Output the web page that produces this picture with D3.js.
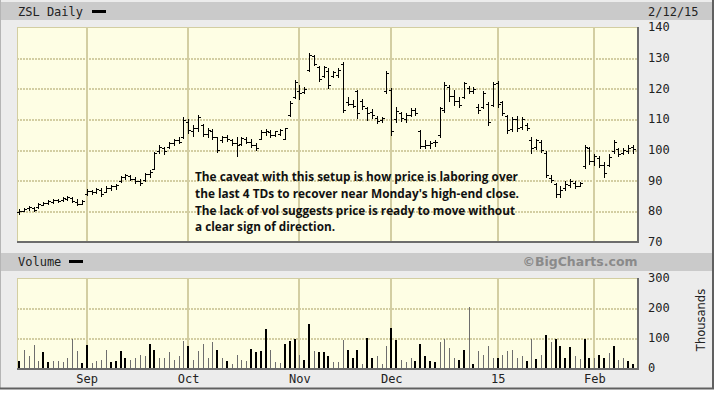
<!DOCTYPE html>
<html>
<head>
<meta charset="utf-8">
<script src="https://cdn.jsdelivr.net/npm/d3@7"></script>
<style>
body { margin: 0; background: #fff; }
svg text { font-family: "DejaVu Sans Mono", monospace; font-size: 12px; fill: #222; }
</style>
</head>
<body>
<div id="chart"></div>
<script>
// daily OHLC, Aug 12 2014 .. Feb 12 2015
const opens = [79.5, 80, 80.8, 81, 81.2, 82, 82.6, 83, 83.6, 83.4, 84, 84.2, 83, 82.4,
  85.6, 86.4, 86, 86.8, 86.2, 87.4, 88, 89.8, 91, 91.5, 90.5, 89.6, 90, 92, 93.8, 99.5, 100.6, 100.8, 102, 103, 104,
  109, 106, 107, 108, 105, 106, 104, 103, 104, 103, 102, 101.8, 103.5, 102.4, 101.4, 103.6, 105.6, 105.8, 104.8, 105, 103.6, 111.2, 117.2,
  119, 118.8, 126, 130.5, 127, 124, 125.6, 124, 124.4, 127.8, 115.4, 115, 119, 115.8, 113.6, 112.4, 110.4, 109.6, 119,
  119.6, 110, 112, 110, 111.4, 113, 106, 101.2, 101.6, 102.4, 104.6, 112.8, 120.4, 117.4, 116, 117, 120, 119.2, 114, 114, 115, 114.6,
  121.6, 115.6, 111, 106.8, 110, 107.4, 108, 103, 101, 102.4, 99, 90.6, 88.8, 85.4, 87.4, 88.4, 89, 88.2, 94.5, 100.6,
  96.4, 97.4, 95, 95, 99.4, 100.2, 98.8, 99.6, 100.8];
const highs = [80.5, 81, 81.5, 81.2, 82.5, 83, 83.5, 83.8, 84, 84.5, 84.8, 84.6, 83.8, 83.5,
  87, 86.8, 87.5, 87.6, 88, 88.4, 88.8, 91.5, 92, 91.8, 91, 90.5, 92.4, 93.4, 99.2, 101.6, 100.8, 102.5, 103.4, 104, 110.5,
  110, 108, 111.3, 108.5, 107, 106.6, 104.2, 104.5, 104.8, 103.6, 104, 104.2, 104, 103.4, 102, 106.4, 106.8, 106.4, 106.2, 106.8, 107.2, 115.8, 122.8,
  121, 120.5, 131.4, 131, 127.2, 127.4, 126.6, 125.8, 126.6, 128.6, 117, 116.2, 119.5, 116.4, 113.8, 113.4, 110.8, 110.6, 125.6,
  120, 113.8, 112.4, 111.8, 113.6, 113.6, 106.5, 103.2, 102.8, 103, 114, 122, 121, 119.4, 117.2, 122.2, 120.6, 120.4, 114.8, 119, 115.6, 122.2,
  122.4, 116, 111.4, 110.6, 111, 110.6, 108.6, 104, 103.6, 103, 99.4, 91.8, 89.2, 88, 89.6, 90.4, 89.6, 89.4, 101.4, 101,
  98.4, 97.8, 95.8, 98.4, 103.2, 100.6, 100.4, 101.6, 101.4];
const lows = [79, 79.8, 80.3, 80, 81, 81.8, 82.2, 82.6, 82.8, 83.2, 83.5, 82.8, 82, 82.2,
  85.3, 85.5, 85.8, 84.8, 86, 86.8, 87.2, 89.5, 90.3, 90, 89.2, 88.5, 89.8, 91.2, 93.6, 99, 98.6, 100.5, 101.4, 102, 103.8,
  105.5, 104.5, 106, 104.5, 104, 103.4, 99.3, 102.5, 102.8, 101.5, 97.8, 101.4, 102, 100.8, 99.8, 103.4, 104.6, 104.2, 104.4, 104.6, 103.4, 111, 116.8,
  116.6, 118.4, 125.6, 127.6, 122.4, 123.8, 120, 123.6, 123.8, 112.4, 114.4, 113.8, 110.4, 113.4, 109.8, 110.4, 108.8, 109, 118.6,
  104.8, 109, 109.2, 109, 111, 111.4, 100.6, 100.4, 100.6, 101.2, 104.2, 112.4, 116, 114.6, 113.8, 116.8, 118.4, 118.6, 112, 113.6, 108, 114.2,
  114, 111.3, 105.4, 106, 106.2, 106.6, 106.4, 99, 100.2, 99.2, 91.2, 89.4, 84.6, 84.6, 86.8, 87.8, 87.4, 88, 94, 95.4,
  95, 94.2, 91.2, 94.6, 98.8, 97.8, 98.4, 98.8, 99];
const closes = [80, 80.6, 81.2, 80.4, 82.2, 82.6, 83.2, 83.4, 83.2, 84.2, 84.4, 83.2, 82.4, 83.2,
  86.6, 86, 87.2, 85.6, 87.6, 88, 88.4, 91, 91.6, 90.5, 89.6, 89.2, 92, 92.8, 99, 100.8, 99.4, 102, 103, 102.6, 109.6,
  106.4, 107.2, 110.5, 105, 106.4, 104, 100, 104, 103.6, 102, 101.5, 103.8, 102.5, 101.4, 100.5, 105.8, 106, 104.8, 106, 106.4, 107, 115.2, 122,
  118.4, 119.8, 131, 128, 123, 127, 121, 125.4, 126, 113, 115, 114.2, 112, 114.2, 111.8, 111.4, 109.4, 110.2, 125,
  106, 112.6, 110.2, 111.2, 113, 112, 101.2, 101.6, 102.2, 102.6, 113.6, 121, 117.4, 116, 114.4, 121.6, 119, 119.8, 113, 118.6, 109, 121.4,
  115, 112, 106.4, 110, 107, 110, 107, 100.4, 103, 99.8, 91.8, 90, 85.4, 86.8, 88.8, 89.8, 88, 89, 101, 96.4,
  97.8, 95, 92.4, 97.6, 102.6, 98.6, 100, 100.6, 100.2];
// volume in thousands, and whether the bar is drawn dark
const volumes = [22, 61, 39, 78, 22, 53, 20, 22, 22, 20, 33, 97, 56, 15,
  78, 15, 24, 28, 61, 20, 22, 55, 35, 28, 33, 44, 39, 80, 61, 33, 33, 52, 28, 39, 89,
  72, 28, 55, 80, 35, 87, 61, 33, 22, 13, 44, 28, 22, 64, 53, 56, 131, 61, 20, 15, 80, 89, 98,
  44, 28, 146, 56, 53, 53, 39, 20, 20, 94, 61, 35, 61, 13, 100, 35, 39, 13, 72,
  135, 94, 28, 20, 33, 24, 80, 39, 24, 20, 87, 98, 67, 33, 28, 61, 205, 13, 56, 44, 72, 35,
  33, 42, 55, 61, 35, 39, 24, 97, 31, 44, 110, 87, 98, 72, 35, 69, 39, 31, 97, 35,
  33, 44, 33, 50, 75, 28, 33, 22, 13];
const volDark = [1, 0, 0, 0, 0, 1, 1, 0, 0, 0, 0, 0, 0, 1,
  1, 0, 0, 0, 0, 1, 1, 1, 1, 0, 0, 0, 0, 1, 1, 0, 0, 0, 0, 0, 0,
  1, 0, 0, 0, 0, 0, 1, 0, 1, 0, 0, 0, 0, 1, 1, 1, 1, 0, 0, 0, 1, 1, 1,
  0, 1, 1, 0, 1, 1, 1, 0, 0, 0, 1, 1, 1, 0, 1, 1, 0, 0, 0,
  1, 1, 0, 0, 0, 1, 1, 1, 1, 1, 0, 0, 0, 0, 1, 1, 0, 1, 0, 0, 0, 0,
  1, 0, 0, 0, 0, 0, 1, 0, 1, 0, 1, 0, 1, 1, 1, 1, 0, 0, 1, 1,
  0, 1, 1, 0, 1, 0, 0, 1, 1];

const monthLabels = ["Sep", "Oct", "Nov", "Dec", "15", "Feb"];
const monthStarts = [14, 35, 58, 77, 99, 119];
const priceTicks = [70, 80, 90, 100, 110, 120, 130, 140];
const volTicks = [0, 100, 200, 300];
const noteLines = [
  "The caveat with this setup is how price is laboring over",
  "the last 4 TDs to recover near Monday's high-end close.",
  "The lack of vol suggests price is ready to move without",
  "a clear sign of direction."];
const noteWidths = [323, 324, 320, 140];

const bars = opens.map((o, i) => ({i: i, o: o, h: highs[i], l: lows[i], c: closes[i],
                                   v: volumes[i], dark: volDark[i]}));

const plotL = 17, plotR = 637;
const gridColor = "#d3cea2";

const x = d3.scaleLinear().domain([0, bars.length - 1]).range([19, 633]);
const yP = d3.scaleLinear().domain([70, 140]).range([241.5, 27]);
const yV = d3.scaleLinear().domain([0, 300]).range([368, 278]);
const px = i => Math.round(x(i)) + 0.5;

const svg = d3.select("#chart").append("svg")
      .attr("width", 716)
      .attr("height", 396);

// frame
svg.append("rect").attr("width", 716).attr("height", 396).attr("fill", "#fff");
svg.append("rect").attr("x", 0).attr("y", 0).attr("width", 714).attr("height", 389).attr("fill", "#ececec");
svg.append("rect").attr("x", 0).attr("y", 2).attr("width", 713).attr("height", 18).attr("fill", "#cacaca");
svg.append("rect").attr("x", 0).attr("y", 253).attr("width", 713).attr("height", 18).attr("fill", "#cacaca");
svg.append("line").attr("x1", 0.5).attr("x2", 0.5).attr("y1", 0).attr("y2", 389)
  .attr("stroke", "#b5b5b5");
svg.append("line").attr("x1", 713).attr("x2", 713).attr("y1", 0).attr("y2", 389)
  .attr("stroke", "#606060").attr("stroke-width", 2);
svg.append("line").attr("x1", 0).attr("x2", 714).attr("y1", 388.5).attr("y2", 388.5)
  .attr("stroke", "#606060").attr("stroke-width", 2);

function panel(top, bottom, y, hTicks) {
  const g = svg.append("g").attr("shape-rendering", "crispEdges");
  g.append("rect")
    .attr("x", plotL).attr("y", top)
    .attr("width", plotR - plotL).attr("height", bottom - top)
    .attr("fill", "#fefee4");

  g.selectAll(".hgrid").data(hTicks).enter()
    .append("line")
    .attr("class", "hgrid")
    .attr("x1", plotL).attr("x2", plotR)
    .attr("y1", d => Math.round(y(d)) + 0.5)
    .attr("y2", d => Math.round(y(d)) + 0.5)
    .attr("stroke", gridColor).attr("stroke-width", 2)
    .attr("stroke-dasharray", "2,1");

  g.selectAll(".vgrid").data(monthStarts).enter()
    .append("line")
    .attr("class", "vgrid")
    .attr("x1", d => Math.round(x(d)))
    .attr("x2", d => Math.round(x(d)))
    .attr("y1", top).attr("y2", bottom)
    .attr("stroke", gridColor).attr("stroke-width", 2);

  g.append("line").attr("x1", plotL).attr("x2", plotR).attr("y1", top + 0.5).attr("y2", top + 0.5)
    .attr("stroke", gridColor);
  g.append("line").attr("x1", plotL + 0.5).attr("x2", plotL + 0.5).attr("y1", top).attr("y2", bottom)
    .attr("stroke", gridColor);
  g.append("line").attr("x1", plotL).attr("x2", plotR + 2).attr("y1", bottom + 1).attr("y2", bottom + 1)
    .attr("stroke", "#6c6c6c").attr("stroke-width", 2);
  g.append("line").attr("x1", plotR + 1).attr("x2", plotR + 1).attr("y1", top).attr("y2", bottom + 2)
    .attr("stroke", "#6c6c6c").attr("stroke-width", 2);
}

panel(27, 241, yP, priceTicks.slice(1, -1));
panel(278, 368, yV, volTicks.slice(1, -1));

// price bars
svg.append("g").selectAll(".ohlc").data(bars).enter()
  .append("path")
  .attr("class", "ohlc")
  .attr("d", b => {
    const cx = px(b.i);
    const yo = Math.round(yP(b.o)) + 0.5, yc = Math.round(yP(b.c)) + 0.5;
    return `M${cx},${Math.round(yP(b.h))}V${Math.round(yP(b.l)) + 1}` +
           `M${cx - 2.5},${yo}H${cx}M${cx},${yc}H${cx + 2.5}`;
  })
  .attr("fill", "none")
  .attr("stroke", "#000")
  .attr("stroke-width", 1)
  .attr("shape-rendering", "crispEdges");

// volume bars
svg.append("g").selectAll(".vol").data(bars).enter()
  .append("rect")
  .attr("class", "vol")
  .attr("x", b => Math.round(x(b.i)) - (b.dark ? 1 : 0))
  .attr("y", b => Math.round(yV(b.v)))
  .attr("width", b => b.dark ? 2 : 1)
  .attr("height", b => Math.round(yV(0)) - Math.round(yV(b.v)))
  .attr("fill", b => b.dark ? "#000" : "#6e6e6e")
  .attr("shape-rendering", "crispEdges");

// axes
const styleAxis = g => {
  g.select(".domain").remove();
  g.attr("font-family", null).attr("font-size", null);
  g.selectAll("text").attr("fill", "#222");
};

svg.append("g")
  .attr("transform", "translate(648,0)")
  .call(d3.axisRight(yP).tickValues(priceTicks).tickSize(0).tickPadding(0))
  .call(styleAxis);

svg.append("g")
  .attr("transform", "translate(648,0)")
  .call(d3.axisRight(yV).tickValues(volTicks).tickSize(0).tickPadding(0))
  .call(styleAxis);

svg.append("g")
  .attr("transform", "translate(0,372)")
  .call(d3.axisBottom(x).tickValues(monthStarts)
        .tickFormat((d, i) => monthLabels[i]).tickSize(0).tickPadding(2))
  .call(styleAxis);

// header texts
svg.append("text").attr("x", 18).attr("y", 16).text("ZSL Daily");
svg.append("rect").attr("x", 92).attr("y", 10).attr("width", 14).attr("height", 3).attr("fill", "#000");
svg.append("text").attr("x", 648).attr("y", 16).text("2/12/15");
svg.append("text").attr("x", 18).attr("y", 266).text("Volume");
svg.append("rect").attr("x", 69).attr("y", 260).attr("width", 14).attr("height", 3).attr("fill", "#000");
svg.append("text")
  .attr("x", 580).attr("y", 266)
  .attr("text-anchor", "middle")
  .style("font-family", "'DejaVu Sans', sans-serif")
  .style("font-weight", "bold")
  .style("font-size", "12.5px")
  .style("fill", "#8a8a8a")
  .text("\u00a9BigCharts.com");
svg.append("text")
  .attr("transform", "translate(705,320) rotate(-90)")
  .attr("text-anchor", "middle")
  .style("font-family", "'DejaVu Sans', sans-serif")
  .style("font-size", "11.5px")
  .text("Thousands");

// annotation
svg.append("g").selectAll(".note").data(noteLines).enter()
  .append("text")
  .attr("class", "note")
  .attr("x", 195)
  .attr("y", (d, i) => 181 + i * 16.8)
  .attr("textLength", (d, i) => noteWidths[i])
  .attr("lengthAdjust", "spacingAndGlyphs")
  .style("font-family", "'Liberation Sans Narrow', 'Open Sans', sans-serif")
  .style("font-weight", "bold")
  .style("font-size", "13px")
  .style("fill", "#111")
  .text(d => d);
</script>
</body>
</html>
